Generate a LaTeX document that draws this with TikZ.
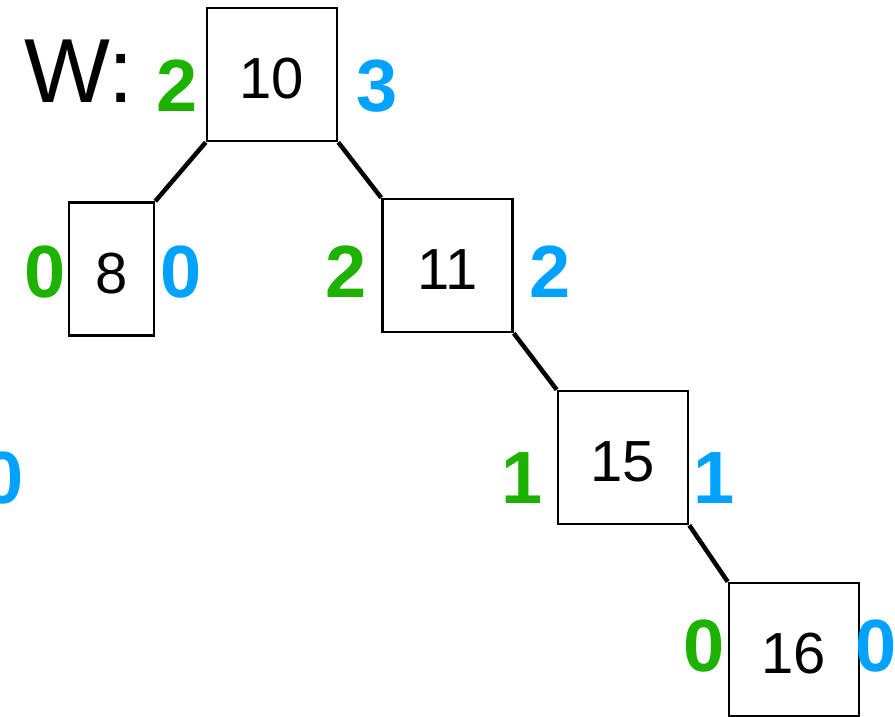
\documentclass[tikz,border=0pt]{standalone}
\usepackage{fontspec}
\setmainfont{Liberation Sans}
\definecolor{WGreen}{HTML}{1DB100}
\definecolor{WBlue}{HTML}{00A2FF}

\begin{document}
\begin{tikzpicture}[x=1pt,y=-1pt,
  keybox/.style={draw,line width=2.6pt,minimum width=130pt,minimum height=133pt,inner sep=0pt,
    text height=48pt,text depth=0pt,font=\fontsize{58}{60}\selectfont},
  lcount/.style={text=WGreen,inner sep=0pt,font=\fontsize{74}{76}\selectfont\bfseries},
  rcount/.style={text=WBlue,inner sep=0pt,font=\fontsize{74}{76}\selectfont\bfseries},
  link/.style={line width=4.5pt}]
\path[use as bounding box] (0,0) rectangle (895,716);
\clip (0,0) rectangle (895,716);
% keys
\node[keybox] (k10) at (272,74.5) {10};
\node[keybox,minimum width=85pt] (k8) at (111.5,269) {8};
\node[keybox] (k11) at (447.5,265.5) {11};
\node[keybox] (k15) at (623,457.5) {15};
\node[keybox] (k16) at (794,649.5) {16};
\node[inner sep=0pt,font=\fontsize{91}{93}\selectfont] (wlabel) at (79,71) {W:};
% counts
\node[lcount] (l10) at (177,86) {2};
\node[rcount] (r10) at (377,86.5) {3};
\node[lcount] (l8) at (45.5,272) {0};
\node[rcount] (r8) at (181,272) {0};
\node[lcount] (l11) at (346.5,272) {2};
\node[rcount] (r11) at (550,272) {2};
\node[rcount] (rnil) at (3,478) {0};
\node[lcount] (l15) at (522,478.5) {1};
\node[rcount] (r15) at (714,478.5) {1};
\node[lcount] (l16) at (704.5,646.5) {0};
\node[rcount] (r16) at (876,646.5) {0};
% links
\draw[link] (k10.south west) -- (k8.north east);
\draw[link] (k10.south east) -- (k11.north west);
\draw[link] (k11.south east) -- (k15.north west);
\draw[link] (k15.south east) -- (k16.north west);
\end{tikzpicture}
\end{document}
